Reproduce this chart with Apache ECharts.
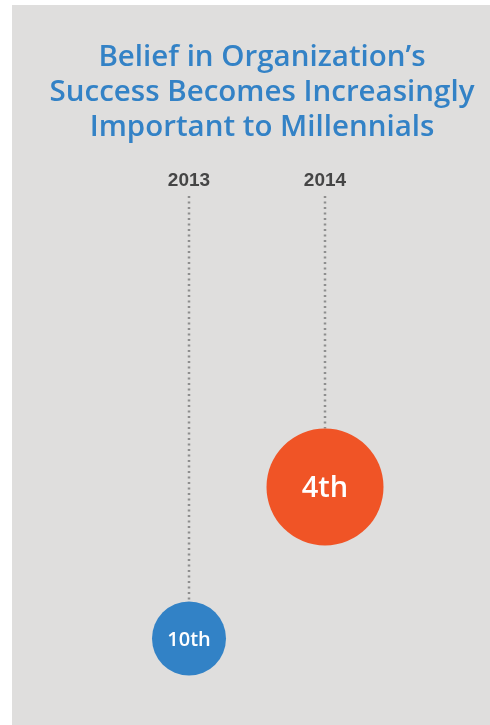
<!DOCTYPE html>
<html>
<head>
<meta charset="utf-8">
<script src="https://cdn.jsdelivr.net/npm/echarts@6/dist/echarts.min.js"></script>
<style>
  html, body { margin: 0; padding: 0; background: #ffffff; }
  #chart { width: 490px; height: 725px; }
</style>
</head>
<body>
<div id="chart"></div>
<script>
// Survey years and the rank "belief in the organization's success" held each year
const years = ['2013', '2014'];
const ranks = [10, 4];
const rankLabels = ['10th', '4th'];

// Presentation
const bubbleColors = ['#3282c6', '#f05426'];
const bubbleLabelSizes = [20, 29];
const LABEL_RISE = 190;          // how far the year labels sit above the plotting area
const BUBBLE_SCALE = 234;        // bubble diameter = BUBBLE_SCALE / sqrt(rank)

function bubbleSize(rank) {
  return BUBBLE_SCALE / Math.sqrt(rank);
}

const chart = echarts.init(document.getElementById('chart'));

chart.setOption({
  animation: false,
  backgroundColor: '#ffffff',
  graphic: [{
    type: 'rect',
    z: -10,
    silent: true,
    shape: { x: 12, y: 5, width: 478, height: 720 },
    style: { fill: '#dfdedd' }
  }],
  title: {
    text: 'Belief in Organization\u2019s\nSuccess Becomes Increasingly\nImportant to Millennials',
    left: 257,
    top: 35,
    textAlign: 'center',
    textStyle: {
      color: '#3382c6',
      fontFamily: 'Open Sans',
      fontWeight: 600,
      fontSize: 29.5,
      lineHeight: 35
    }
  },
  grid: { left: 121, right: 97, top: 386, bottom: 36 },
  xAxis: {
    type: 'category',
    data: years,
    position: 'top',
    offset: LABEL_RISE,
    axisLine: { show: false },
    axisTick: { show: false },
    splitLine: { show: false },
    axisLabel: {
      color: '#454545',
      fontFamily: 'Liberation Sans',
      fontWeight: 'bold',
      fontSize: 19,
      margin: 6
    }
  },
  yAxis: {
    type: 'value',
    inverse: true,
    min: 0,
    max: 12,
    show: false,
    splitLine: { show: false }
  },
  series: [
    {
      // dotted leader from each year label down to the top of its bubble
      type: 'custom',
      silent: true,
      z: 1,
      data: ranks.map((r, i) => [i, r]),
      renderItem: function (params, api) {
        const p = api.coord([api.value(0), api.value(1)]);
        const r = bubbleSize(api.value(1)) / 2;
        const top = params.coordSys.y - LABEL_RISE;
        return {
          type: 'line',
          shape: { x1: p[0], y1: top, x2: p[0], y2: p[1] - r },
          style: { stroke: '#8e8e8e', lineWidth: 2.5, lineDash: [2, 3.5] }
        };
      }
    },
    {
      type: 'scatter',
      z: 2,
      symbol: 'circle',
      symbolSize: function (val) { return bubbleSize(val[1]); },
      itemStyle: { opacity: 1 },
      data: ranks.map((r, i) => ({
        value: [i, r],
        itemStyle: { color: bubbleColors[i], opacity: 1 },
        label: {
          show: true,
          position: 'inside',
          offset: [0, 2],
          formatter: rankLabels[i],
          color: '#ffffff',
          fontFamily: 'Open Sans',
          fontWeight: 600,
          fontSize: bubbleLabelSizes[i]
        }
      }))
    }
  ]
});
</script>
</body>
</html>
